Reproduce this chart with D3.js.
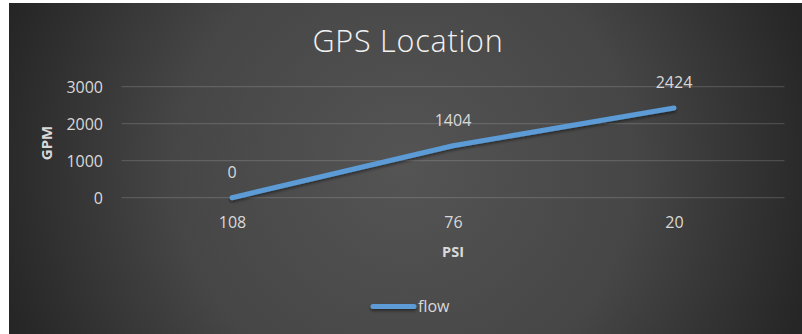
<!DOCTYPE html>
<html>
<head>
<meta charset="utf-8">
<script src="https://cdn.jsdelivr.net/npm/d3@7"></script>
<style>
  html, body { margin: 0; padding: 0; background: #ffffff; }
  svg { display: block; }
  text { font-family: "Open Sans", "Liberation Sans", sans-serif; }
</style>
</head>
<body>
<svg id="chart" width="802" height="334"></svg>
<script>
// Flow readings at each pressure point
const categories = ["108", "76", "20"];
const flowValues = [0, 1404, 2424];
const yTicks = [0, 1000, 2000, 3000];
const seriesName = "flow";
const chartTitle = "GPS Location";
const xTitle = "PSI";
const yTitle = "GPM";

const W = 802, H = 334;
const plot = { left: 121.5, right: 784.5, top: 86.7, bottom: 197.7 };

const svg = d3.select("#chart");
const defs = svg.append("defs");

// Dark radial backdrop
const grad = defs.append("radialGradient")
  .attr("id", "bg")
  .attr("gradientUnits", "userSpaceOnUse")
  .attr("cx", 405).attr("cy", 168).attr("r", 420);
grad.append("stop").attr("offset", "0%").attr("stop-color", "#545454");
grad.append("stop").attr("offset", "55%").attr("stop-color", "#464646");
grad.append("stop").attr("offset", "100%").attr("stop-color", "#262626");

// Soft shadow under the series strokes (region in user space so flat lines keep it)
const shadow = defs.append("filter").attr("id", "shadow")
  .attr("filterUnits", "userSpaceOnUse")
  .attr("x", 0).attr("y", 0).attr("width", W).attr("height", H);
shadow.append("feDropShadow").attr("dx", 0).attr("dy", 2).attr("stdDeviation", 1.5)
  .attr("flood-color", "#000").attr("flood-opacity", 0.45);

svg.append("rect")
  .attr("x", 9).attr("y", 3).attr("width", W - 9).attr("height", H - 3)
  .attr("fill", "url(#bg)");

// Scales
const x = d3.scalePoint().domain(categories)
  .range([plot.left, plot.right]).padding(0.5);
const y = d3.scaleLinear().domain([0, 3000]).range([plot.bottom, plot.top]);

// Gridlines
svg.append("g")
  .selectAll("line")
  .data(yTicks)
  .join("line")
  .attr("x1", plot.left).attr("x2", plot.right)
  .attr("y1", d => y(d)).attr("y2", d => y(d))
  .attr("stroke", "#d9d9d9").attr("stroke-opacity", 0.22)
  .attr("stroke-width", 1);

// Y axis labels
const yAxis = d3.axisLeft(y).tickValues(yTicks).tickSize(0).tickPadding(0)
  .tickFormat(d3.format("d"));
const gy = svg.append("g").attr("transform", `translate(${103},0)`).call(yAxis);
gy.select(".domain").remove();
gy.selectAll("text")
  .attr("fill", "#d9d9d9").attr("font-size", 16)
  .attr("dy", "0.35em");

// X axis labels
const xAxis = d3.axisBottom(x).tickSize(0).tickPadding(0);
const gx = svg.append("g").attr("transform", `translate(0,${222})`).call(xAxis);
gx.select(".domain").remove();
gx.selectAll("text")
  .attr("fill", "#d9d9d9").attr("font-size", 16)
  .attr("y", 0).attr("dy", "0.35em");

// Axis titles
svg.append("text")
  .attr("x", 453).attr("y", 251.5).attr("dy", "0.35em")
  .attr("text-anchor", "middle")
  .attr("fill", "#d9d9d9").attr("font-size", 14.5).attr("font-weight", "bold")
  .text(xTitle);

svg.append("text")
  .attr("transform", `translate(47,143) rotate(-90)`)
  .attr("dy", "0.35em")
  .attr("text-anchor", "middle")
  .attr("fill", "#d9d9d9").attr("font-size", 15).attr("font-weight", "bold")
  .text(yTitle);

// Chart title
svg.append("text")
  .attr("x", 408).attr("y", 52)
  .attr("text-anchor", "middle")
  .attr("fill", "#f2f2f2").attr("font-size", 30.5).attr("font-weight", 300)
  .attr("letter-spacing", 0.8)
  .text(chartTitle);

// Series line
const points = categories.map((c, i) => ({ c, v: flowValues[i] }));
const line = d3.line().x(d => x(d.c)).y(d => y(d.v));
svg.append("path")
  .datum(points)
  .attr("d", line)
  .attr("fill", "none")
  .attr("stroke", "#5b9bd5").attr("stroke-width", 5)
  .attr("stroke-linecap", "round").attr("stroke-linejoin", "round")
  .attr("filter", "url(#shadow)");

// Data labels
svg.append("g")
  .selectAll("text")
  .data(points)
  .join("text")
  .attr("x", d => x(d.c))
  .attr("y", d => y(d.v) - 25.5)
  .attr("dy", "0.35em")
  .attr("text-anchor", "middle")
  .attr("fill", "#d9d9d9").attr("font-size", 16)
  .text(d => d.v);

// Legend
const lg = svg.append("g");
lg.append("line")
  .attr("x1", 373).attr("x2", 414).attr("y1", 306.5).attr("y2", 306.5)
  .attr("stroke", "#5b9bd5").attr("stroke-width", 5)
  .attr("stroke-linecap", "round")
  .attr("filter", "url(#shadow)");
lg.append("text")
  .attr("x", 418).attr("y", 306).attr("dy", "0.35em")
  .attr("fill", "#d9d9d9").attr("font-size", 16)
  .text(seriesName);
</script>
</body>
</html>
